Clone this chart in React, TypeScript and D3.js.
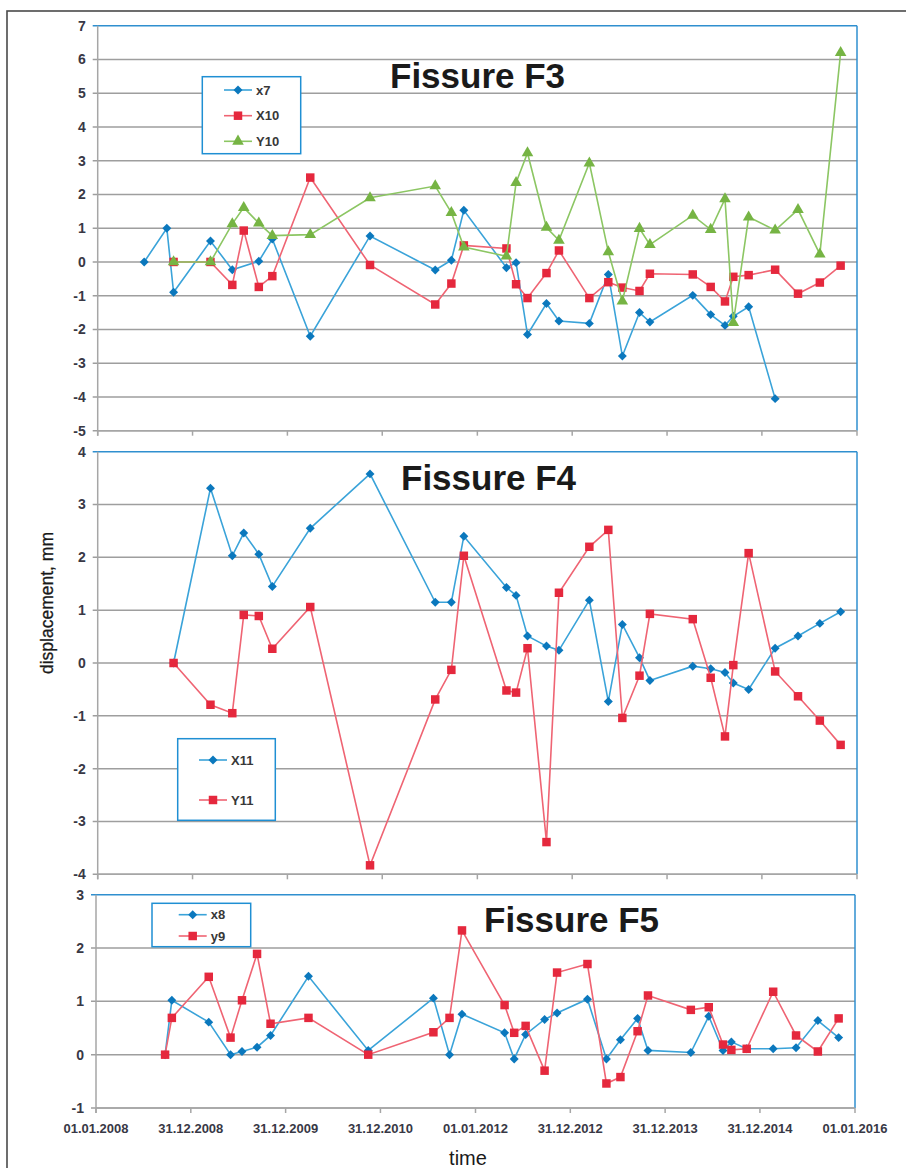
import React from 'react';
import * as d3 from 'd3';

// measurement dates shared by all fissures
const dates = [
  '2008-06-28', '2008-09-23', '2008-10-19', '2009-03-10', '2009-06-02', '2009-07-16',
  '2009-09-12', '2009-11-03', '2010-03-29', '2010-11-14', '2011-07-23', '2011-09-23',
  '2011-11-10', '2012-04-22', '2012-05-29', '2012-07-12', '2012-09-23', '2012-11-10',
  '2013-03-07', '2013-05-19', '2013-07-12', '2013-09-16', '2013-10-26', '2014-04-09',
  '2014-06-17', '2014-08-11', '2014-09-12', '2014-11-10', '2015-02-20', '2015-05-19',
  '2015-08-11', '2015-10-30',
];

// Fissure F3
const x7 = [0, 1.0, -0.9, 0.62, -0.23, null, 0.02, 0.68, -2.2, 0.77, -0.24, 0.05, 1.53,
  -0.17, -0.02, -2.15, -1.23, -1.75, -1.82, -0.37, -2.79, -1.5, -1.78, -0.99, -1.56, -1.88,
  -1.61, -1.33, -4.05, null, null, null];
const X10 = [null, null, 0, 0, -0.68, 0.93, -0.74, -0.42, 2.5, -0.09, -1.26, -0.64, 0.49,
  0.4, -0.66, -1.07, -0.33, 0.34, -1.07, -0.6, -0.76, -0.86, -0.35, -0.37, -0.74, -1.17,
  -0.44, -0.39, -0.23, -0.94, -0.61, -0.11];
const Y10 = [null, null, 0, 0, 1.13, 1.61, 1.15, 0.78, 0.81, 1.9, 2.25, 1.46, 0.44,
  0.17, 2.35, 3.23, 1.02, 0.64, 2.93, 0.3, -1.16, 0.99, 0.51, 1.38, 0.96, 1.87,
  -1.8, 1.33, 0.94, 1.55, 0.23, 6.2];

// Fissure F4
const X11 = [null, null, 0, 3.31, 2.03, 2.46, 2.06, 1.45, 2.55, 3.58, 1.15, 1.15, 2.4,
  1.43, 1.28, 0.51, 0.32, 0.24, 1.19, -0.73, 0.73, 0.1, -0.33, -0.06, -0.11, -0.18,
  -0.38, -0.5, 0.28, 0.51, 0.75, 0.97];
const Y11 = [null, null, 0, -0.79, -0.95, 0.91, 0.89, 0.27, 1.06, -3.83, -0.69, -0.13, 2.03,
  -0.52, -0.56, 0.28, -3.39, 1.33, 2.2, 2.52, -1.04, -0.24, 0.93, 0.83, -0.28, -1.39,
  -0.04, 2.08, -0.16, -0.63, -1.09, -1.55];

// Fissure F5
const x8 = [null, 0, 1.02, 0.61, 0, 0.06, 0.14, 0.36, 1.47, 0.08, 1.06, 0, 0.76,
  0.41, -0.08, 0.38, 0.66, 0.78, 1.04, -0.08, 0.28, 0.68, 0.08, 0.04, 0.72, 0.08,
  0.24, 0.11, 0.11, 0.13, 0.64, 0.32];
const y9 = [null, 0, 0.69, 1.46, 0.32, 1.02, 1.89, 0.58, 0.69, 0, 0.42, 0.69, 2.33,
  0.93, 0.41, 0.54, -0.3, 1.54, 1.7, -0.54, -0.42, 0.44, 1.11, 0.84, 0.89, 0.19,
  0.09, 0.11, 1.18, 0.36, 0.06, 0.68];

const xTickDates = ['2008-01-01', '2008-12-31', '2009-12-31', '2010-12-31', '2012-01-01',
  '2012-12-31', '2013-12-31', '2014-12-31', '2016-01-01'];
const xTickLabels = ['01.01.2008', '31.12.2008', '31.12.2009', '31.12.2010', '01.01.2012',
  '31.12.2012', '31.12.2013', '31.12.2014', '01.01.2016'];

const parse = d3.timeParse('%Y-%m-%d');
const FONT = '"Liberation Sans", Arial, sans-serif';

// diamond = square turned 45 degrees, like the Excel marker
const STYLES = {
  blue: { line: '#3aa3d9', fill: '#0b78bd', shape: d3.symbolSquare, size: 40, rot: 45 },
  red: { line: '#ef6473', fill: '#e5283d', shape: d3.symbolSquare, size: 72, rot: 0 },
  green: { line: '#8cc663', fill: '#76b444', shape: d3.symbolTriangle, size: 58, rot: 0 },
};

type Series = { name: string; values: (number | null)[]; style: keyof typeof STYLES };

const panels = [
  {
    title: 'Fissure F3', yMin: -5, yMax: 7, top: 25.7, bottom: 430.7, left: 97.7, right: 857,
    titleX: 390, titleY: 88,
    legend: { x: 202.3, y: 76.7, w: 98.4, h: 77, rows: [90, 115.7, 141.3], lineX: 224, lineW: 28 },
    series: [
      { name: 'x7', values: x7, style: 'blue' },
      { name: 'X10', values: X10, style: 'red' },
      { name: 'Y10', values: Y10, style: 'green' },
    ] as Series[],
    labels: false,
  },
  {
    title: 'Fissure F4', yMin: -4, yMax: 4, top: 451.7, bottom: 874.3, left: 97.7, right: 857,
    titleX: 401, titleY: 490,
    legend: { x: 177.7, y: 738.7, w: 97.6, h: 81.6, rows: [760, 800], lineX: 199, lineW: 28 },
    series: [
      { name: 'X11', values: X11, style: 'blue' },
      { name: 'Y11', values: Y11, style: 'red' },
    ] as Series[],
    labels: false,
  },
  {
    title: 'Fissure F5', yMin: -1, yMax: 3, top: 894.7, bottom: 1108, left: 96, right: 855,
    titleX: 484, titleY: 932,
    legend: { x: 152, y: 903.3, w: 98.7, h: 43.4, rows: [914.7, 936], lineX: 178.7, lineW: 28 },
    series: [
      { name: 'x8', values: x8, style: 'blue' },
      { name: 'y9', values: y9, style: 'red' },
    ] as Series[],
    labels: true,
  },
];

function Panel({ p }: { p: (typeof panels)[number] }) {
  const x = d3.scaleTime()
    .domain([parse('2008-01-01')!, parse('2016-01-01')!])
    .range([p.left, p.right]);
  const y = d3.scaleLinear().domain([p.yMin, p.yMax]).range([p.bottom, p.top]);
  const yTicks = d3.range(p.yMin, p.yMax + 1);

  const line = d3.line<{ d: Date; v: number }>()
    .x(d => x(d.d))
    .y(d => y(d.v));

  return (
    <g>
      {/* gridlines */}
      {yTicks.map(t => (
        <line key={t} x1={p.left - 5} x2={p.right} y1={y(t)} y2={y(t)}
          stroke={t === p.yMax ? '#2f8fcf' : '#9e9e9e'} strokeWidth={1.5} />
      ))}
      {/* y tick labels */}
      {yTicks.map(t => (
        <text key={'l' + t} x={p.left - 12} y={y(t)} dy="0.35em" textAnchor="end"
          fontFamily={FONT} fontWeight="bold" fontSize={14} fill="#383845">{t}</text>
      ))}
      {/* plot border: top and right in blue */}
      <line x1={p.right} x2={p.right} y1={p.top} y2={p.bottom} stroke="#2f8fcf" strokeWidth={1.5} />
      {/* axes */}
      <line x1={p.left} x2={p.left} y1={p.top} y2={p.bottom + 5} stroke="#a6a6a6" strokeWidth={1.5} />
      <line x1={p.left} x2={p.right} y1={p.bottom} y2={p.bottom} stroke="#a6a6a6" strokeWidth={1.5} />
      {xTickDates.map((t, i) => (
        <g key={t}>
          <line x1={x(parse(t)!)} x2={x(parse(t)!)} y1={p.bottom} y2={p.bottom + 5}
            stroke="#a6a6a6" strokeWidth={1.5} />
          {p.labels && (
            <text x={x(parse(t)!)} y={p.bottom + 25} textAnchor="middle" fontFamily={FONT}
              fontWeight="bold" fontSize={13} fill="#383845">{xTickLabels[i]}</text>
          )}
        </g>
      ))}
      {/* series */}
      {p.series.map(s => {
        const st = STYLES[s.style];
        const pts = s.values
          .map((v, i) => ({ d: parse(dates[i])!, v }))
          .filter(o => o.v !== null) as { d: Date; v: number }[];
        const sym = d3.symbol().type(st.shape).size(st.size)();
        return (
          <g key={s.name}>
            <path d={line(pts) || ''} fill="none" stroke={st.line} strokeWidth={1.6} />
            {pts.map((o, i) => (
              <path key={i} d={sym || ''} fill={st.fill}
                transform={`translate(${x(o.d)},${y(o.v)}) rotate(${st.rot})`} />
            ))}
          </g>
        );
      })}
      {/* title */}
      <text x={p.titleX} y={p.titleY} fontFamily={FONT} fontWeight="bold" fontSize={35} fill="#1a1a1a">
        {p.title}
      </text>
      {/* legend */}
      <rect x={p.legend.x} y={p.legend.y} width={p.legend.w} height={p.legend.h}
        fill="#fff" stroke="#1f8fd3" strokeWidth={1.5} />
      {p.series.map((s, i) => {
        const st = STYLES[s.style];
        const ry = p.legend.rows[i];
        const sym = d3.symbol().type(st.shape).size(st.size)();
        return (
          <g key={'lg' + s.name}>
            <line x1={p.legend.lineX} x2={p.legend.lineX + p.legend.lineW} y1={ry} y2={ry}
              stroke={st.line} strokeWidth={1.6} />
            <path d={sym || ''} fill={st.fill}
              transform={`translate(${p.legend.lineX + p.legend.lineW / 2},${ry}) rotate(${st.rot})`} />
            <text x={p.legend.lineX + p.legend.lineW + 4} y={ry} dy="0.35em" fontFamily={FONT}
              fontWeight="bold" fontSize={13} fill="#383838">{s.name}</text>
          </g>
        );
      })}
    </g>
  );
}

export default function App() {
  return (
    <svg width={906} height={1168} style={{ position: 'absolute', left: 0, top: 0, background: '#fff' }}>
      <rect x={7} y={11} width={1000} height={1300} fill="#fff" stroke="#4a4a4a" strokeWidth={1.6} />
      {panels.map(p => <Panel key={p.title} p={p} />)}
      <text transform="translate(53,603) rotate(-90)" textAnchor="middle" fontFamily={FONT}
        fontSize={17.5} fill="#1a1a1a" stroke="#1a1a1a" strokeWidth={0.3}>displacement, mm</text>
      <text x={468} y={1165} textAnchor="middle" fontFamily={FONT} fontSize={20} fill="#1a1a1a">time</text>
    </svg>
  );
}
